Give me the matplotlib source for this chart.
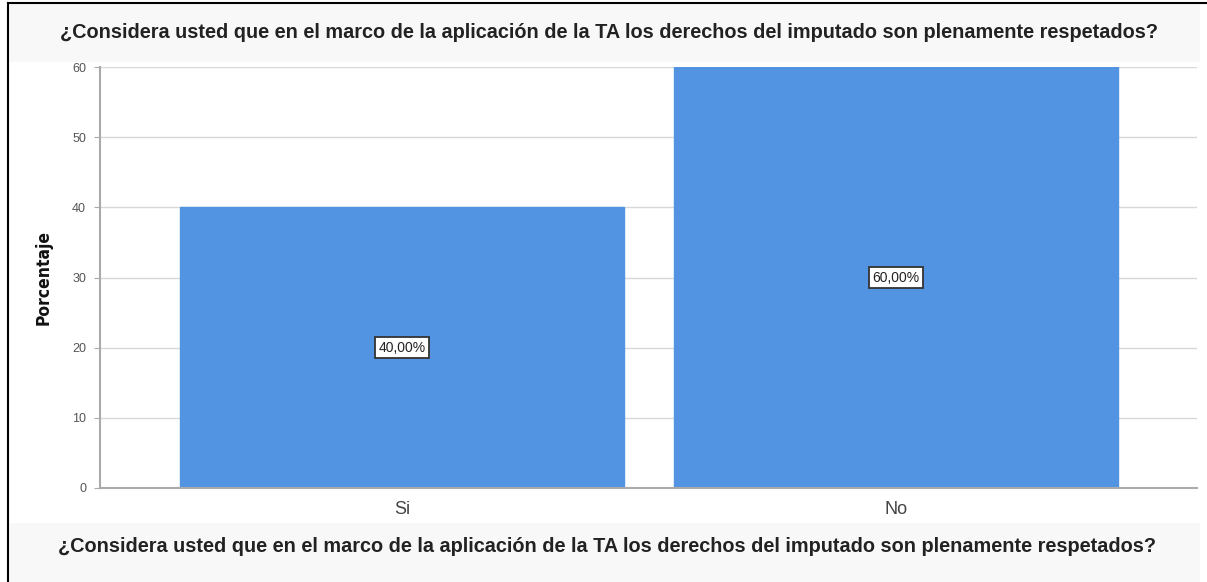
import matplotlib
matplotlib.use("Agg")
import matplotlib.pyplot as plt
from matplotlib.patches import Rectangle
from matplotlib.lines import Line2D

categories = ["Si", "No"]
values = [40.0, 60.0]
value_labels = ["40,00%", "60,00%"]
yticks = [0, 10, 20, 30, 40, 50, 60]
title = "¿Considera usted que en el marco de la aplicación de la TA los derechos del imputado son plenamente respetados?"
ylabel = "Porcentaje"

W, H = 1207, 582
fig = plt.figure(figsize=(W / 100, H / 100), dpi=100)
fig.patch.set_facecolor("white")

# light title / footer bands
fig.patches.append(Rectangle((8 / W, 1 - 62 / H), (1200 - 8) / W, 59 / H,
                             transform=fig.transFigure, facecolor="#f8f8f8",
                             edgecolor="none", zorder=0))
fig.patches.append(Rectangle((8 / W, 0), (1200 - 8) / W, 1 - 523 / H,
                             transform=fig.transFigure, facecolor="#f8f8f8",
                             edgecolor="none", zorder=0))
# outer frame (left and top)
fig.lines.append(Line2D([8 / W, 8 / W], [0, 1 - 3 / H], transform=fig.transFigure,
                        color="black", lw=1.5))
fig.lines.append(Line2D([8 / W, 1], [1 - 3 / H, 1 - 3 / H], transform=fig.transFigure,
                        color="black", lw=1.5))

ax = fig.add_axes([100 / W, 1 - 488 / H, (1197 - 100) / W, (488 - 67) / H])
ax.set_facecolor("white")
x = list(range(len(categories)))
bars = ax.bar(x, values, width=0.9, color="#5294E2", edgecolor="#5294E2", zorder=2)
for xi, v, lab in zip(x, values, value_labels):
    ax.text(xi, v / 2, lab, ha="center", va="center", fontsize=10, color="#222222",
            family="Liberation Sans", zorder=3,
            bbox=dict(boxstyle="square,pad=0.25", facecolor="white", edgecolor="#333333", lw=1.3))

ax.set_xlim(-0.611, 1.609)
ax.set_ylim(0, 60)
ax.set_yticks(yticks)
ax.set_yticklabels([str(t) for t in yticks], fontsize=9, color="#555555",
                   family="Liberation Sans")
ax.set_xticks(x)
ax.set_xticklabels(categories, fontsize=13, color="#444444", family="Liberation Sans")
ax.tick_params(axis="x", length=0, pad=9)
ax.tick_params(axis="y", length=4, color="#aaaaaa", pad=6)
ax.yaxis.grid(True, color="#d8d8d8", lw=1, zorder=0)
ax.set_axisbelow(True)
for s in ["top", "right"]:
    ax.spines[s].set_visible(False)
for s in ["left", "bottom"]:
    ax.spines[s].set_color("#aaaaaa")
    ax.spines[s].set_linewidth(1.5)

ax.set_ylabel(ylabel, fontsize=12.5, fontweight="bold", color="#111111",
              family="DejaVu Sans", fontstretch="condensed", labelpad=14)

fig.text(609 / W, 1 - 33 / H, title, ha="center", va="center", fontsize=14.35,
         fontweight="bold", color="#222222", family="Liberation Sans")
fig.text(607 / W, 1 - 547 / H, title, ha="center", va="center", fontsize=14.35,
         fontweight="bold", color="#222222", family="Liberation Sans")

fig.savefig("out.png", dpi=100, facecolor=fig.get_facecolor())
